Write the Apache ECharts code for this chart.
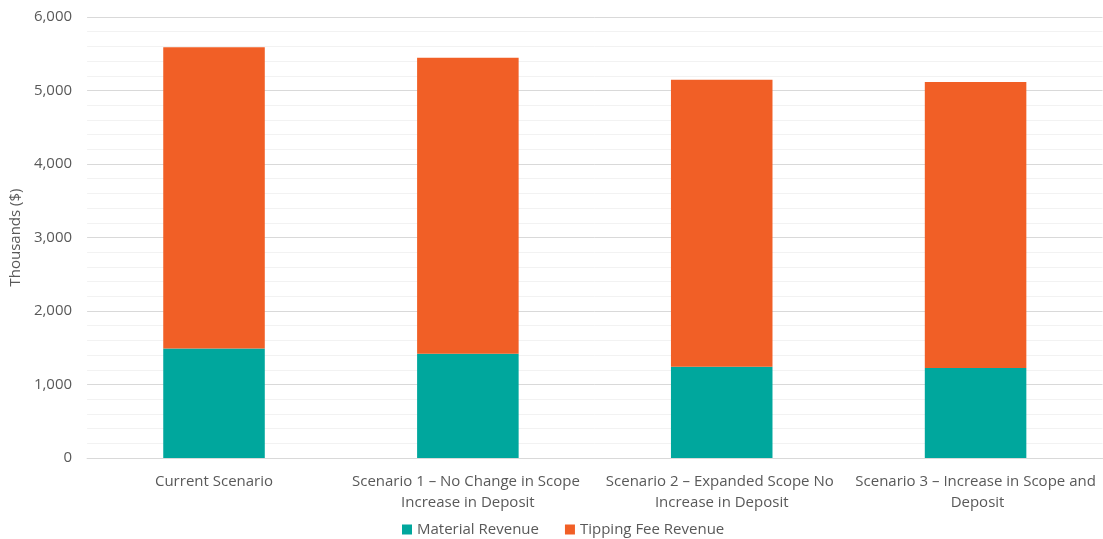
<!DOCTYPE html>
<html>
<head>
<meta charset="utf-8">
<script src="https://cdn.jsdelivr.net/npm/echarts@6/dist/echarts.min.js"></script>
<style>
html,body{margin:0;padding:0;background:#fff;overflow:hidden;}
#chart{width:1103px;height:539px;}
</style>
</head>
<body>
<div id="chart"></div>
<script>
var categories = [
  "Current Scenario",
  "Scenario 1 \u2013 No Change in Scope Increase in Deposit",
  "Scenario 2 \u2013 Expanded Scope No Increase in Deposit",
  "Scenario 3 \u2013 Increase in Scope and Deposit"
];
var materialRevenue = [1490, 1420, 1240, 1223];
var tippingFeeRevenue = [4100, 4026, 3905, 3892];
var yTicks = [0, 1000, 2000, 3000, 4000, 5000, 6000];

var chart = echarts.init(document.getElementById('chart'));
var fontFam = '"Open Sans", "Noto Sans", sans-serif';
chart.setOption({
  animation: false,
  textStyle: { fontFamily: fontFam },
  grid: { left: 87, width: 1020, top: 17, bottom: 81, containLabel: false },
  legend: {
    bottom: -3,
    left: 397,
    itemWidth: 10,
    itemHeight: 10,
    itemGap: 26,
    icon: 'rect',
    textStyle: { color: '#595959', fontSize: 15, fontFamily: fontFam },
    data: ['Material Revenue', 'Tipping Fee Revenue']
  },
  xAxis: {
    type: 'category',
    data: categories,
    axisLine: { show: true, lineStyle: { color: '#d9d9d9', width: 1 } },
    axisTick: { show: false },
    axisLabel: {
      color: '#595959',
      fontSize: 15,
      margin: 13,
      lineHeight: 21,
      width: 250,
      overflow: 'break',
      interval: 0,
      fontFamily: fontFam
    }
  },
  yAxis: {
    type: 'value',
    min: 0,
    max: 6000,
    interval: 1000,
    name: 'Thousands ($)',
    nameLocation: 'middle',
    nameGap: 61,
    nameRotate: 90,
    nameTextStyle: { color: '#595959', fontSize: 15, fontFamily: fontFam },
    axisLine: { show: false },
    axisTick: { show: false },
    axisLabel: {
      color: '#595959',
      fontSize: 15,
      margin: 15,
      fontFamily: fontFam,
      formatter: function (v) { return v.toLocaleString('en-US'); }
    },
    splitLine: { show: true, lineStyle: { color: '#d9d9d9', width: 1 } },
    minorTick: { show: false, splitNumber: 5 },
    minorSplitLine: { show: true, lineStyle: { color: '#f2f2f2', width: 1 } }
  },
  series: [
    {
      name: 'Material Revenue',
      type: 'bar',
      stack: 'total',
      barWidth: '40%',
      data: materialRevenue,
      itemStyle: { color: '#00A79D' }
    },
    {
      name: 'Tipping Fee Revenue',
      type: 'bar',
      stack: 'total',
      barWidth: '40%',
      data: tippingFeeRevenue,
      itemStyle: { color: '#F15F26' }
    }
  ]
});
</script>
</body>
</html>
